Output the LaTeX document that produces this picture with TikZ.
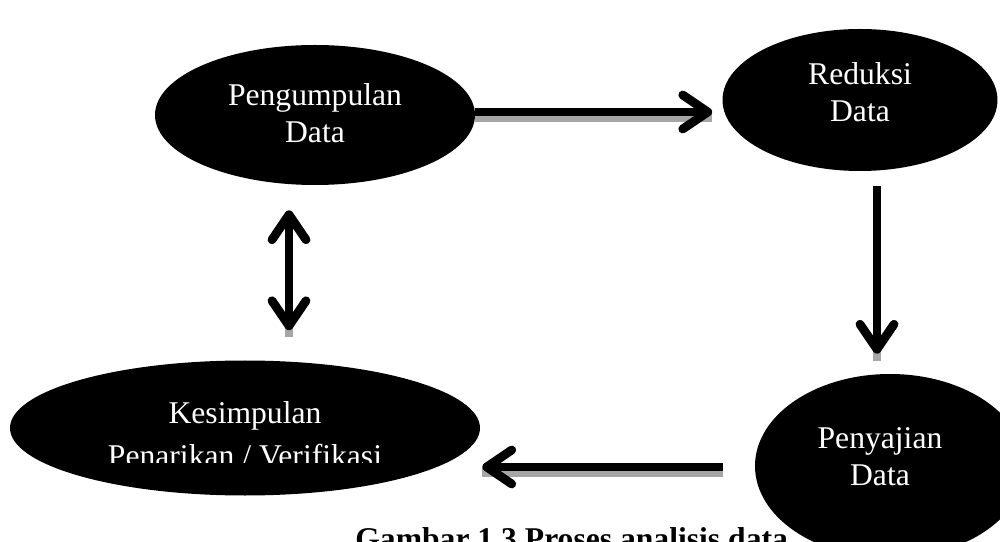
\documentclass[tikz,border=0pt]{standalone}
\usepackage{fontspec}
\setmainfont{Liberation Serif}
\usetikzlibrary{shapes.geometric,arrows.meta}
\tikzset{
	proses/.style={ellipse, fill=black, inner sep=0pt},
	teks/.style={text=white, align=center, font=\fontsize{18}{21}\selectfont},
	panah/.style={line width=5pt, -{Straight Barb[length=0.5cm,width=0.68cm,round]}},
	panahdua/.style={line width=5pt, {Straight Barb[length=0.5cm,width=0.68cm,round]}-{Straight Barb[length=0.5cm,width=0.68cm,round]}},
	bayang/.style={line width=5pt, gray!70}
}
\begin{document}
\begin{tikzpicture}
	\useasboundingbox (0,0) rectangle (20,10.82);
	\clip (0,0) rectangle (20,10.82);
	% judul gambar (terpotong di tepi bawah)
	\node[anchor=base west, inner sep=0pt, font=\fontsize{18}{22}\selectfont\bfseries] (judul) at (7.1,-0.16) {Gambar 1.3 Proses analisis data};
	% elips
	\node[proses, minimum width=6.4cm, minimum height=2.8cm] (pengumpulan) at (6.3,8.52) {};
	\node[teks] at (6.3,8.56) {Pengumpulan\\Data};
	\node[proses, minimum width=5.5cm, minimum height=2.84cm] (reduksi) at (17.2,8.82) {};
	\node[teks] at (17.2,8.98) {Reduksi\\Data};
	\node[proses, minimum width=5.4cm, minimum height=3.68cm] (penyajian) at (17.8,1.5) {};
	\node[teks] at (17.6,1.68) {Penyajian\\Data};
	\node[proses, minimum width=9.4cm, minimum height=2.7cm] (kesimpulan) at (4.9,2.26) {};
	\node[teks, anchor=base] at (4.9,2.36) {Kesimpulan};
	\begin{scope}
		\clip (0,1.58) rectangle (10,2.2);
		\node[teks, anchor=base] at (4.9,1.5) {Penarikan / Verifikasi};
	\end{scope}
	% panah
	\coordinate (atas1) at ([yshift=0.06cm]pengumpulan.east);
	\coordinate (atas2) at ([xshift=-0.2cm]atas1 -| reduksi.west);
	\draw[bayang] ([yshift=-0.11cm]atas1) -- ([yshift=-0.11cm]atas2);
	\draw[panah] (atas1) -- (atas2);
	\coordinate (kanan1) at ([xshift=0.34cm,yshift=-0.3cm]reduksi.south);
	\coordinate (kanan2) at ([yshift=0.4cm]kanan1 |- penyajian.north);
	\draw[bayang] ([yshift=-0.14cm]kanan1) -- ([yshift=-0.14cm]kanan2);
	\draw[panah] (kanan1) -- (kanan2);
	\coordinate (bawah1) at ([xshift=-0.64cm,yshift=-0.02cm]penyajian.west);
	\coordinate (bawah2) at ([xshift=0.04cm]bawah1 -| kesimpulan.east);
	\draw[bayang] ([yshift=-0.11cm]bawah1) -- ([yshift=-0.11cm]bawah2);
	\draw[panah] (bawah1) -- (bawah2);
	\coordinate (kiri1) at ([xshift=-0.52cm,yshift=-0.5cm]pengumpulan.south);
	\coordinate (kiri2) at ([yshift=0.6cm]kiri1 |- kesimpulan.north);
	\draw[bayang] ([yshift=-0.14cm]kiri1) -- ([yshift=-0.14cm]kiri2);
	\draw[panahdua] (kiri1) -- (kiri2);
\end{tikzpicture}
\end{document}
